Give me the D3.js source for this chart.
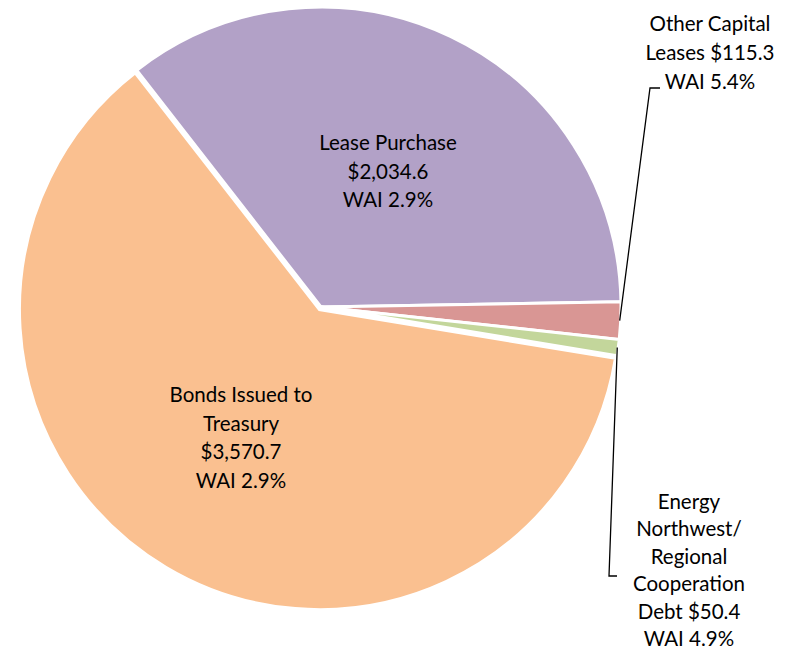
<!DOCTYPE html>
<html>
<head>
<meta charset="utf-8">
<script src="https://cdn.jsdelivr.net/npm/d3@7"></script>
<style>
  body { margin: 0; background: #fff; }
  svg text { font-family: Lato, "Open Sans", sans-serif; font-size: 20.5px; fill: #000; }
</style>
</head>
<body>
<svg id="chart" width="791" height="651"></svg>
<script>
// debt categories, $ millions, weighted average interest
var categories = ["Lease Purchase", "Other Capital Leases", "Energy Northwest/ Regional Cooperation Debt", "Bonds Issued to Treasury"];
var values = [2034.6, 115.3, 50.4, 3570.7];
var wai = [2.9, 5.4, 4.9, 2.9];
var colors = ["#B2A1C7", "#D99694", "#C3D69B", "#FAC090"];

// label lines as they wrap in the chart
var labelLines = [
  ["Lease Purchase", "$2,034.6", "WAI 2.9%"],
  ["Other Capital", "Leases $115.3", "WAI 5.4%"],
  ["Energy", "Northwest/", "Regional", "Cooperation", "Debt $50.4", "WAI 4.9%"],
  ["Bonds Issued to", "Treasury", "$3,570.7", "WAI 2.9%"]
];

var cx = 321, cy = 307, r = 300;
var start = -37.9 * Math.PI / 180;

var svg = d3.select("#chart"),
    g = svg.append("g").attr("transform", "translate(" + cx + "," + cy + ")");

var pie = d3.pie().sort(null).value(function(d) { return d; })
    .startAngle(start).endAngle(start + 2 * Math.PI);
var arcs = pie(values);

var arc = d3.arc().innerRadius(0).outerRadius(r);

// small explode for the big slice
function offset(d, i) {
  if (i !== 3) return "translate(0,0)";
  var a = (d.startAngle + d.endAngle) / 2, k = 3;
  return "translate(" + (Math.sin(a) * k) + "," + (-Math.cos(a) * k) + ")";
}

g.selectAll("path.slice")
  .data(arcs)
  .enter().append("path")
  .attr("class", "slice")
  .attr("d", arc)
  .attr("transform", offset)
  .style("fill", function(d, i) { return colors[i]; })
  .style("stroke", "#fff")
  .style("stroke-width", 3)
  .style("stroke-linejoin", "miter");

// label anchors (chart coords): x centre, first baseline, line step
var labelAt = [
  {x: 388, y: 150, step: 28.5},
  {x: 710, y: 31, step: 29},
  {x: 689, y: 509, step: 27.4},
  {x: 241, y: 402, step: 28.5}
];

labelLines.forEach(function(lines, i) {
  var t = svg.append("text")
    .attr("text-anchor", "middle");
  lines.forEach(function(s, j) {
    t.append("tspan")
      .attr("x", labelAt[i].x)
      .attr("y", labelAt[i].y + j * labelAt[i].step)
      .text(s);
  });
});

// leader lines for the two small slices
var elbows = {1: [[660, 88], [650, 88]], 2: [[617, 576], [609, 576]]};
[1, 2].forEach(function(i) {
  var d = arcs[i], a = (d.startAngle + d.endAngle) / 2;
  var p = [cx + Math.sin(a) * (r - 1), cy - Math.cos(a) * (r - 1)];
  var pts = elbows[i].concat([p]);
  svg.append("path")
    .attr("d", d3.line()(pts))
    .style("fill", "none")
    .style("stroke", "#000")
    .style("stroke-width", 1.3);
});
</script>
</body>
</html>
